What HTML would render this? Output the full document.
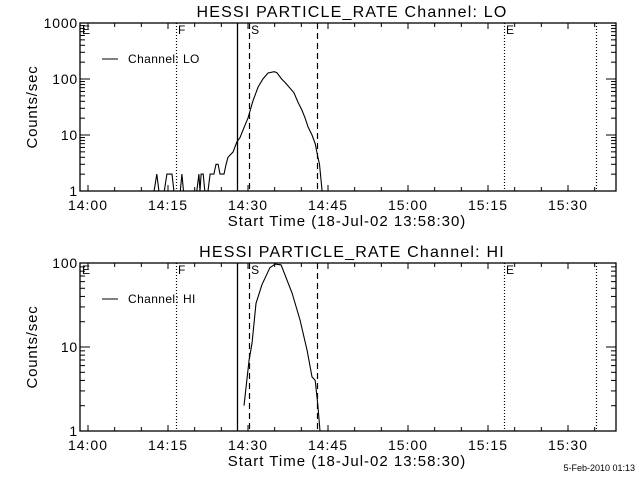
<!DOCTYPE html>
<html><head><meta charset="utf-8"><style>
html,body{margin:0;padding:0;background:#fff}
svg text{font-family:"Liberation Sans",sans-serif;fill:#000}
</style></head><body>
<svg id="c" width="640" height="480" viewBox="0 0 640 480" xmlns="http://www.w3.org/2000/svg"></svg>
<script>
// minutes after 14:00
const xTickLabels = ["14:00","14:15","14:30","14:45","15:00","15:15","15:30"];
const xTickMinutes = [0,15,30,45,60,75,90];
const markerMinutes = [16.5, 28, 30.2, 43, 78, 95.3];
const markerStyles = ["dot","solid","dash","dash","dot","dot"];
const markerLetters = [["E",-1.5],["F",16.5],["S",30.2],["E",78]];
const loTimes = [12.4,12.9,13.3,14.3,14.8,15.75,16.1,17.3,17.6,17.9,20.4,20.8,21.0,21.2,21.6,21.9,22.5,22.9,23.6,24.0,24.4,24.75,25.5,25.9,26.25,27.2,27.9,28.5,29.3,30.0,30.9,31.9,32.8,33.75,34.9,35.4,36.3,36.9,38.6,39.4,40.1,40.7,41.25,42.0,42.6,43.1,43.4,43.9];
const loValues = [1,2,1,1,2,2,1,1,2,1,1,2,1,2,2,1,1,2,2,3,3,2,2,3,4,5,7.5,9,14,20,40,72,100,128,135,130,100,88,57,38,28,20,14,10,7,4,3,1];
const hiTimes = [29.25,30.2,30.75,31.5,32.6,34.1,35.1,36.2,38.25,39.75,41.1,42,42.6,43.1,43.5];
const hiValues = [2,7,11,33,55,88,97,95,44,21,9,4.4,4,2,1];
const loYTicks = [1,10,100,1000];
const hiYTicks = [1,10,100];

const svg=document.getElementById('c');
const NS="http://www.w3.org/2000/svg";
function mk(tag,attrs,parent){const e=document.createElementNS(NS,tag);for(const k in attrs)e.setAttribute(k,attrs[k]);(parent||svg).appendChild(e);return e;}
const X0=80,X1=616;
function xs(m){return 88+m*80/15;}

function panel(top,bottom,ymax,yTicks,times,vals,chName,prefix){
  const g=mk('g',{});
  
  
  const decades=Math.log10(ymax);
  function ys(v){return bottom-(Math.log10(v)/decades)*(bottom-top);}
  const t=mk('text',{x:352,y:top-6,'font-size':16,'text-anchor':'middle','letter-spacing':1.2},g);
  t.textContent="HESSI PARTICLE_RATE Channel: "+chName;
  
  
  const f=mk('rect',{x:X0,y:top,width:X1-X0,height:bottom-top,fill:'none',stroke:'#000','stroke-width':1.3},g);
  
  
  for(let d=0;d<yTicks.length;d++){
    const v=yTicks[d];const y=ys(v);
    if(y<top-0.5)continue;
    mk('line',{x1:X0,x2:X0+10,y1:y,y2:y,stroke:'#000'},g);
    mk('line',{x1:X1,x2:X1-10,y1:y,y2:y,stroke:'#000'},g);
    const l=mk('text',{x:X0-2,y:y+5,'font-size':14,'text-anchor':'end','letter-spacing':0.8},g);
    l.textContent=String(v);
    
    
    for(let k=2;k<=9;k++){const yy=ys(v*k);if(yy<top)break;
      mk('line',{x1:X0,x2:X0+5,y1:yy,y2:yy,stroke:'#000'},g);
      mk('line',{x1:X1,x2:X1-5,y1:yy,y2:yy,stroke:'#000'},g);}
  }
  for(let m=-1.5;m<=99;m+=0.5){
    if(Math.abs(m%5)>1e-6)continue;
    const x=xs(m);if(x<X0||x>X1)continue;
    const maj=Math.abs(m%15)<1e-6;const L=maj?6:4;
    mk('line',{x1:x,x2:x,y1:bottom,y2:bottom-L,stroke:'#000'},g);
    mk('line',{x1:x,x2:x,y1:top,y2:top+L,stroke:'#000'},g);
  }
  xTickMinutes.forEach((m,i)=>{
    const l=mk('text',{x:xs(m),y:bottom+19,'font-size':14,'text-anchor':'middle','letter-spacing':1},g);
    l.textContent=xTickLabels[i];
    
    
  });
  const xt=mk('text',{x:347,y:bottom+35,'font-size':15,'text-anchor':'middle','letter-spacing':1},g);
  xt.textContent="Start Time (18-Jul-02 13:58:30)";
  
  
  const yc=(top+bottom)/2;
  const yt=mk('text',{x:37,y:yc,'font-size':15,'text-anchor':'middle','letter-spacing':0.8,transform:'rotate(-90 37 '+yc+')'},g);
  yt.textContent="Counts/sec";
  
  
  markerMinutes.forEach((m,i)=>{
    const s=markerStyles[i];const x=Math.round(xs(m))+0.5;
    const a={x1:x,x2:x,y1:top,y2:bottom,stroke:'#000','stroke-width':s==='solid'?1.3:1.2};
    if(s==='dash')a['stroke-dasharray']='6,4';
    if(s==='dot')a['stroke-dasharray']='1,2';
    const ln=mk('line',a,g);
    
    
  });
  markerLetters.forEach(([c,m])=>{
    const l=mk('text',{x:xs(m)+2,y:top+11,'font-size':12},g);
    l.textContent=c;
    
    
  });
  mk('line',{x1:102,x2:118,y1:top+36,y2:top+36,stroke:'#000'},g);
  const lg=mk('text',{x:128,y:top+40,'font-size':12,'letter-spacing':0.4},g);
  lg.textContent="Channel: "+chName;
  
  
  const pts=times.map((m,i)=>xs(m).toFixed(1)+','+ys(vals[i]).toFixed(1)).join(' ');
  const p=mk('polyline',{points:pts,fill:'none',stroke:'#000','stroke-width':1.1},g);
  
  
}
panel(23,191,Math.pow(10,168/56),loYTicks,loTimes,loValues,"LO","lo");
panel(263,431,Math.pow(10,168/84),hiYTicks,hiTimes,hiValues,"HI","hi");
const ft=mk('text',{x:635,y:471,'font-size':9,'text-anchor':'end'});
ft.textContent="5-Feb-2010 01:13";


</script>
</body></html>
